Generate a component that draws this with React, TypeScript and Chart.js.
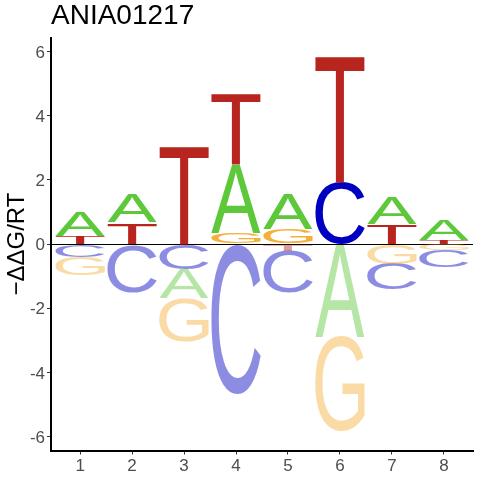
import { useEffect, useRef } from 'react';
import { Chart, registerables } from 'chart.js';

Chart.register(...registerables);

// ---- data ----
const TITLE = 'ANIA01217';
const Y_LABEL = '\u2212\u0394\u0394G/RT';
const positions = [1, 2, 3, 4, 5, 6, 7, 8];
const letters = ['A', 'C', 'G', 'T'];
const scoreA = [0.77, 0.87, -0.92, 2.13, 1.09, -2.9, 0.82, 0.65];
const scoreC = [-0.4, -1.51, -0.78, -4.67, -1.31, 1.93, -0.8, -0.52];
const scoreG = [-0.58, 0, -1.33, 0.34, 0.47, -2.94, -0.62, -0.2];
const scoreT = [0.24, 0.67, 3.06, 2.21, -0.2, 3.94, 0.63, 0.13];
const xTicks = [1, 2, 3, 4, 5, 6, 7, 8];
const yTicks = [-6, -4, -2, 0, 2, 4, 6];

const posColors: Record<string, string> = {
  A: '#5CC83A',
  C: '#0000C0',
  G: '#F5B039',
  T: '#B7251E',
};
const negColors: Record<string, string> = {
  A: 'rgba(92,200,58,0.45)',
  C: 'rgba(0,0,192,0.45)',
  G: 'rgba(245,176,57,0.45)',
  T: 'rgba(183,37,30,0.45)',
};

const FONT = '"Liberation Sans", Arial, sans-serif';
const GLYPH_FONT = `normal 200px ${FONT}`;

function buildDatasets() {
  const table: Record<string, number[]> = { A: scoreA, C: scoreC, G: scoreG, T: scoreT };
  const intervals: Record<string, any[]> = { A: [], C: [], G: [], T: [] };
  positions.forEach((p, i) => {
    const entries = letters.map((L) => ({ L, v: table[L][i] })).filter((e) => e.v !== 0);
    let up = 0;
    entries
      .filter((e) => e.v > 0)
      .sort((a, b) => a.v - b.v)
      .forEach((e) => {
        intervals[e.L].push({ x: p, y: [up, up + e.v], neg: false });
        up += e.v;
      });
    let down = 0;
    entries
      .filter((e) => e.v < 0)
      .sort((a, b) => b.v - a.v)
      .forEach((e) => {
        intervals[e.L].push({ x: p, y: [down + e.v, down], neg: true });
        down += e.v;
      });
  });
  return letters.map((L) => ({
    label: L,
    data: intervals[L],
    grouped: false,
    backgroundColor: 'rgba(0,0,0,0)',
    borderWidth: 0,
    categoryPercentage: 1,
    barPercentage: 0.95,
  }));
}

function drawGlyph(ctx: CanvasRenderingContext2D, ch: string, color: string, x0: number, y0: number, w: number, h: number) {
  if (w <= 0 || h <= 0.1) return;
  ctx.save();
  ctx.font = GLYPH_FONT;
  ctx.textAlign = 'left';
  ctx.textBaseline = 'alphabetic';
  const m = ctx.measureText(ch);
  const gw = m.actualBoundingBoxLeft + m.actualBoundingBoxRight;
  const gh = m.actualBoundingBoxAscent + m.actualBoundingBoxDescent;
  ctx.translate(x0, y0);
  ctx.scale(w / gw, h / gh);
  ctx.fillStyle = color;
  ctx.fillText(ch, m.actualBoundingBoxLeft, m.actualBoundingBoxAscent);
  ctx.restore();
}

const logoPlugin = {
  id: 'logoGlyphs',
  afterDatasetsDraw(chart: any) {
    const ctx = chart.ctx as CanvasRenderingContext2D;
    chart.data.datasets.forEach((ds: any, i: number) => {
      const meta = chart.getDatasetMeta(i);
      meta.data.forEach((bar: any, j: number) => {
        const { x, y, base, width } = bar.getProps(['x', 'y', 'base', 'width'], true);
        const top = Math.min(y, base);
        const h = Math.abs(base - y);
        const item = ds.data[j];
        const color = item.neg ? negColors[ds.label] : posColors[ds.label];
        drawGlyph(ctx, ds.label, color, x - width / 2, top, width, h);
      });
    });
  },
};

export default function App() {
  const ref = useRef<HTMLCanvasElement | null>(null);
  useEffect(() => {
    if (!ref.current) return;
    const chart = new Chart(ref.current, {
      type: 'bar',
      data: { datasets: buildDatasets() as any },
      plugins: [logoPlugin],
      options: {
        animation: false,
        responsive: false,
        devicePixelRatio: 1,
        layout: { padding: { left: 0, right: 7, top: 0, bottom: 0 } },
        plugins: {
          legend: { display: false },
          tooltip: { enabled: false },
          title: {
            display: true,
            text: TITLE,
            align: 'start',
            fullSize: false,
            color: '#000',
            font: { family: FONT, size: 28, weight: 'normal', lineHeight: 1 },
            padding: { top: 2.7, bottom: 7 },
          },
        },
        scales: {
          x: {
            type: 'linear',
            min: 0.44,
            max: 8.56,
            offset: false,
            afterBuildTicks: (s: any) => {
              s.ticks = xTicks.map((v) => ({ value: v }));
            },
            afterFit: (s: any) => {
              s.height = 29.5;
            },
            grid: {
              offset: false,
              drawOnChartArea: false,
              drawTicks: true,
              tickLength: 4,
              tickColor: '#333',
              tickWidth: 1,
            },
            border: { display: true, color: '#000', width: 2 },
            ticks: {
              color: '#4D4D4D',
              padding: 1.5,
              font: { family: FONT, size: 17 },
              maxRotation: 0,
            },
          },
          y: {
            type: 'linear',
            min: -6.43,
            max: 6.43,
            afterBuildTicks: (s: any) => {
              s.ticks = yTicks.map((v) => ({ value: v }));
            },
            afterFit: (s: any) => {
              s.width = 51;
            },
            grid: {
              drawOnChartArea: true,
              drawTicks: true,
              tickLength: 4,
              tickColor: '#333',
              tickWidth: 1,
              lineWidth: 1,
              color: (c: any) => (c.tick && c.tick.value === 0 ? '#000' : 'rgba(0,0,0,0)'),
            },
            border: { display: true, color: '#000', width: 2 },
            ticks: {
              color: '#4D4D4D',
              padding: 2,
              labelOffset: 1.5,
              font: { family: FONT, size: 17 },
            },
            title: {
              display: true,
              text: Y_LABEL,
              color: '#000',
              font: { family: FONT, size: 24, lineHeight: 1.2 },
              padding: { top: 2.5, bottom: 0 },
            },
          },
        },
      } as any,
    });
    return () => chart.destroy();
  }, []);
  return (
    <div style={{ position: 'fixed', left: 0, top: 0, width: 480, height: 480, background: '#fff' }}>
      <canvas ref={ref} width={480} height={480} />
    </div>
  );
}
